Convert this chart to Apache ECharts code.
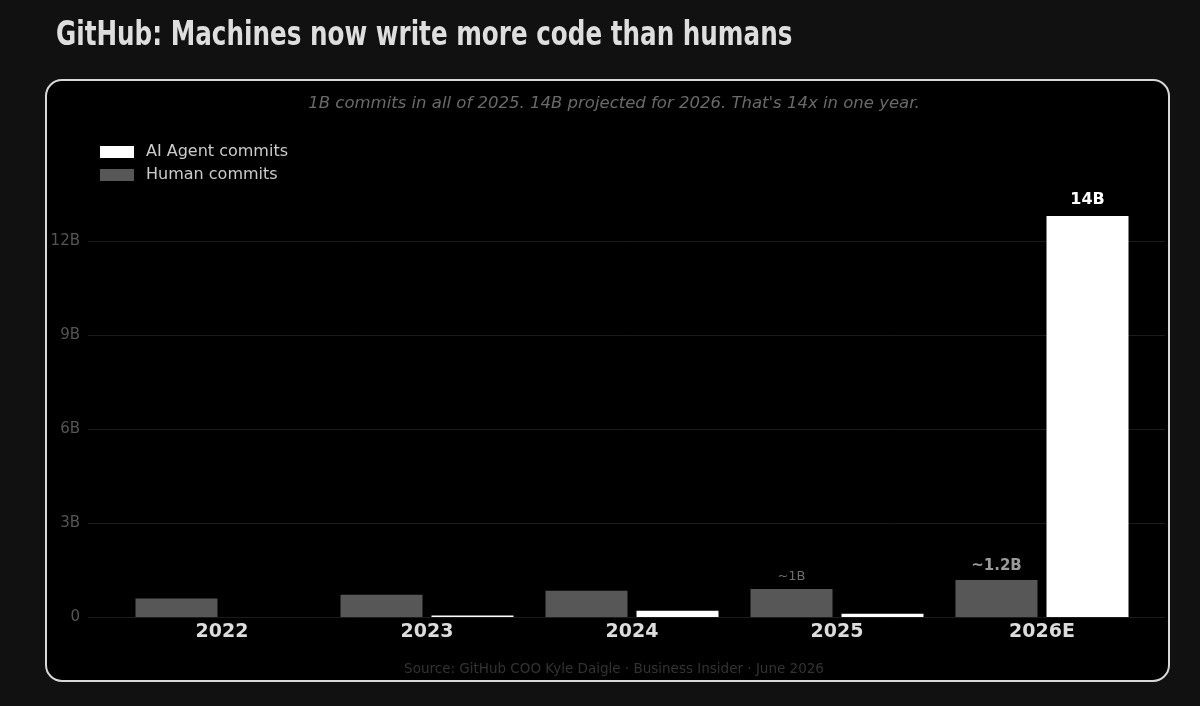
<!DOCTYPE html>
<html>
<head>
<meta charset="utf-8">
<script src="https://cdn.jsdelivr.net/npm/echarts@6/dist/echarts.min.js"></script>
<style>html,body{margin:0;padding:0;background:#111111;}#c{width:1200px;height:706px;}</style>
</head>
<body>
<div id="c"></div>
<script>
const categories = ['2022', '2023', '2024', '2025', '2026E'];
const humanCommits = [0.59, 0.71, 0.84, 0.89, 1.18];
const aiCommits = [0, 0.05, 0.2, 0.1, 12.8];
const humanLabels = ['', '', '', '~1B', '~1.2B'];
const aiLabels = ['', '', '', '', '14B'];
const yTicks = [0, 3, 6, 9, 12];

const chart = echarts.init(document.getElementById('c'));

const fmtB = v => v === 0 ? '0' : (yTicks.indexOf(v) >= 0 ? v + 'B' : '');

const humanData = humanCommits.map((v, i) => ({
  value: v,
  label: humanLabels[i] ? {
    show: true, position: 'top', distance: 6,
    formatter: humanLabels[i],
    color: i === 4 ? '#9a9a9a' : '#6e6e6e',
    fontWeight: i === 4 ? 'bold' : 'normal',
    fontSize: i === 4 ? 15 : 13,
    fontFamily: 'DejaVu Sans'
  } : { show: false }
}));
const aiData = aiCommits.map((v, i) => ({
  value: v,
  label: aiLabels[i] ? {
    show: true, position: 'top', distance: 8,
    formatter: aiLabels[i],
    color: '#ffffff', fontWeight: 'bold', fontSize: 16, fontFamily: 'DejaVu Sans'
  } : { show: false }
}));

const option = {
  backgroundColor: '#111111',
  animation: false,
  graphic: [
    {
      type: 'rect', z: -10, silent: true,
      shape: { x: 46, y: 80, width: 1123, height: 601, r: 16 },
      style: { fill: '#000000', stroke: '#d8d8d8', lineWidth: 2 }
    },
    {
      type: 'text', x: 56, y: 36, scaleX: 0.83, scaleY: 1,
      style: {
        text: 'GitHub: Machines now write more code than humans',
        fill: '#dedede', font: 'bold 33px "DejaVu Sans Condensed"',
        align: 'left', verticalAlign: 'middle'
      }
    },
    {
      type: 'text', x: 614, y: 104,
      style: {
        text: "1B commits in all of 2025. 14B projected for 2026. That's 14x in one year.",
        fill: '#6a6a6a', font: 'italic 16.5px "DejaVu Sans"', align: 'center', verticalAlign: 'middle'
      }
    },
    {
      type: 'text', x: 614, y: 669,
      style: {
        text: 'Source: GitHub COO Kyle Daigle · Business Insider · June 2026',
        fill: '#333333', font: '13.5px "DejaVu Sans"', align: 'center', verticalAlign: 'middle'
      }
    }
  ],
  legend: {
    orient: 'vertical', left: 95, top: 139,
    itemWidth: 34, itemHeight: 12, itemGap: 7,
    icon: 'rect',
    data: ['AI Agent commits', 'Human commits'],
    textStyle: { color: '#cccccc', fontSize: 16, fontFamily: 'DejaVu Sans', padding: [0, 0, 0, 7] }
  },
  grid: [
    { left: 119.5, right: 55.5, top: 162.7, bottom: 89 },
    { left: 88, right: 35, top: 162.7, bottom: 89 }
  ],
  xAxis: [
    {
      type: 'category', gridIndex: 0, data: categories,
      axisLine: { show: false }, axisTick: { show: false },
      axisLabel: { color: '#dddddd', fontSize: 19, fontWeight: 'bold', fontFamily: 'DejaVu Sans', margin: 6 }
    },
    { type: 'value', gridIndex: 1, min: 0, max: 1, show: false }
  ],
  yAxis: [
    { type: 'value', gridIndex: 0, min: 0, max: 14.5, interval: 3, show: false, splitLine: { show: false } },
    {
      type: 'value', gridIndex: 1, min: 0, max: 14.5, interval: 3,
      axisLine: { show: false }, axisTick: { show: false },
      axisLabel: { color: '#555555', fontSize: 15, fontFamily: 'DejaVu Sans', margin: 8, formatter: fmtB, showMaxLabel: false },
      splitLine: { show: true, showMaxLine: false, lineStyle: { color: '#1c1c1c', width: 1 } }
    }
  ],
  series: [
    {
      name: 'Human commits', type: 'bar', xAxisIndex: 0, yAxisIndex: 0,
      data: humanData, barWidth: 82, barGap: '11%',
      itemStyle: { color: '#575757' }
    },
    {
      name: 'AI Agent commits', type: 'bar', xAxisIndex: 0, yAxisIndex: 0,
      data: aiData, barWidth: 82, barGap: '11%',
      itemStyle: { color: '#ffffff' }
    }
  ]
};
chart.setOption(option);
</script>
</body>
</html>
